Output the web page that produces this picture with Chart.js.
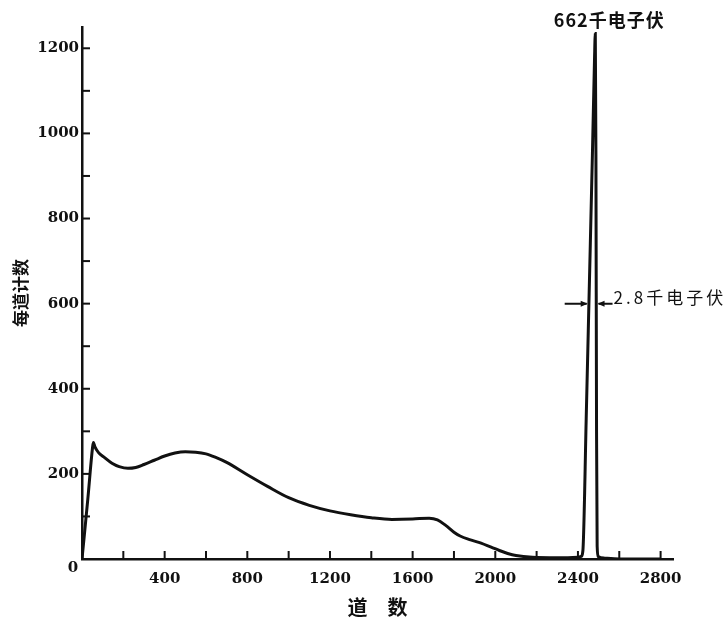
<!DOCTYPE html>
<html>
<head>
<meta charset="utf-8">
<title>每道计数</title>
<script src="https://cdn.jsdelivr.net/npm/chart.js@4.4.1/dist/chart.umd.min.js"></script>
<style>
  html, body { margin: 0; padding: 0; background: #fff; }
  #chart { display: block; }
</style>
</head>
<body>
<canvas id="chart" width="726" height="625"></canvas>
<script>
// channel numbers (道数)
const channels = [
  0, 28, 51, 55, 62, 80, 105, 145, 180, 222, 260, 300, 350, 400, 450, 500, 550,
  600, 650, 700, 800, 900, 1000, 1100, 1200, 1300, 1400, 1500, 1600, 1680, 1720,
  1760, 1800, 1830, 1880, 1920, 1980, 2020, 2060, 2100, 2180, 2300, 2400, 2416,
  2424, 2440, 2455, 2470, 2480, 2484, 2487, 2490, 2493, 2498, 2530, 2600, 2800
];
// counts per channel (每道计数)
const counts = [
  0, 140, 262, 274, 264, 250, 240, 225, 217, 213, 215, 222, 232, 242, 249, 252, 251,
  247, 238, 227, 198, 170, 144, 126, 113, 104, 97, 93, 94, 96, 92,
  79, 63, 54, 45, 39, 28, 20, 13, 8, 4, 3, 4, 6,
  20, 330, 640, 950, 1170, 1235, 950, 300, 30, 6, 2, 0, 0
];

const peakLabel = '662千电子伏';
const peakChannel = 2484;
const peakCount = 1235;
const widthLabel = '2.8千电子伏';
const widthLevel = 600;          // level where the width arrows sit
const widthEdges = [2452, 2490]; // left / right side of the peak at that level

const xLabelEvery = 400;
const yLabelEvery = 200;

const tickFont = { family: 'DejaVu Serif', size: 15, weight: 'bold' };

// short inward tick marks + the shared "0" + the peak notes
const extras = {
  id: 'extras',
  afterDatasetsDraw(chart) {
    const { ctx, chartArea, scales: { x, y } } = chart;
    ctx.save();
    ctx.strokeStyle = '#111';
    ctx.lineWidth = 2;

    // y ticks point right, x ticks point up
    y.ticks.forEach(t => {
      const py = y.getPixelForValue(t.value);
      ctx.beginPath();
      ctx.moveTo(chartArea.left, py);
      ctx.lineTo(chartArea.left + 8, py);
      ctx.stroke();
    });
    x.ticks.forEach(t => {
      if (t.value === 0) return;
      const px = x.getPixelForValue(t.value);
      ctx.beginPath();
      ctx.moveTo(px, chartArea.bottom);
      ctx.lineTo(px, chartArea.bottom - 8);
      ctx.stroke();
    });

    // origin label
    ctx.fillStyle = '#111';
    ctx.font = 'bold 15px "DejaVu Serif"';
    ctx.textAlign = 'center';
    ctx.textBaseline = 'middle';
    ctx.fillText('0', x.getPixelForValue(0) - 9, y.getPixelForValue(0) + 9);

    // label above the photopeak
    ctx.font = 'bold 18px "Noto Sans CJK SC"';
    ctx.letterSpacing = '1px';
    ctx.fillText(peakLabel, x.getPixelForValue(peakChannel) + 14, y.getPixelForValue(peakCount) - 13);

    // width arrows
    const ay = y.getPixelForValue(widthLevel);
    const xl = x.getPixelForValue(widthEdges[0]);
    const xr = x.getPixelForValue(widthEdges[1]);
    ctx.lineWidth = 2;
    ctx.beginPath();
    ctx.moveTo(xl - 24, ay);
    ctx.lineTo(xl - 2, ay);
    ctx.moveTo(xr + 2, ay);
    ctx.lineTo(xr + 16, ay);
    ctx.stroke();
    ctx.beginPath();
    ctx.moveTo(xl - 1, ay);
    ctx.lineTo(xl - 8, ay - 3);
    ctx.lineTo(xl - 8, ay + 3);
    ctx.closePath();
    ctx.moveTo(xr + 1, ay);
    ctx.lineTo(xr + 8, ay - 3);
    ctx.lineTo(xr + 8, ay + 3);
    ctx.closePath();
    ctx.fill();

    ctx.font = '17px "Noto Sans CJK SC"';
    ctx.textAlign = 'left';
    ctx.letterSpacing = '3px';
    ctx.fillText(widthLabel, xr + 17, ay - 6);
    ctx.restore();
  }
};

new Chart(document.getElementById('chart'), {
  type: 'line',
  data: {
    datasets: [{
      data: channels.map((c, i) => ({ x: c, y: counts[i] })),
      borderColor: '#111',
      borderWidth: 3,
      pointRadius: 0,
      fill: false,
      cubicInterpolationMode: 'monotone'
    }]
  },
  options: {
    responsive: false,
    animation: false,
    layout: { padding: { top: 27, right: 53, bottom: 0, left: 0 } },
    plugins: { legend: { display: false }, tooltip: { enabled: false } },
    scales: {
      x: {
        type: 'linear',
        min: 0,
        max: 2860,
        grid: { display: false, drawTicks: false },
        border: { display: true, color: '#111', width: 2.5 },
        ticks: {
          stepSize: 200,
          includeBounds: false,
          autoSkip: false,
          maxRotation: 0,
          padding: 11,
          color: '#111',
          font: tickFont,
          callback: v => (v !== 0 && v % xLabelEvery === 0 ? v : '')
        },
        title: {
          display: true,
          text: '道\u3000数',
          color: '#111',
          font: { family: 'Noto Sans CJK SC', size: 20, weight: 'bold' },
          padding: { top: 0, bottom: 6 }
        },
        afterFit: s => { s.height = 66; }
      },
      y: {
        min: 0,
        max: 1250,
        grid: { display: false, drawTicks: false },
        border: { display: true, color: '#111', width: 2.5 },
        ticks: {
          stepSize: 100,
          includeBounds: false,
          autoSkip: false,
          padding: 3,
          color: '#111',
          font: tickFont,
          callback: v => (v !== 0 && v % yLabelEvery === 0 ? v : '')
        },
        title: {
          display: true,
          text: '每道计数',
          color: '#111',
          font: { family: 'Noto Sans CJK SC', size: 17, weight: 'bold' },
          padding: { top: 10, bottom: 0 }
        },
        afterFit: s => { s.width = 82; }
      }
    }
  },
  plugins: [extras]
});
</script>
</body>
</html>
